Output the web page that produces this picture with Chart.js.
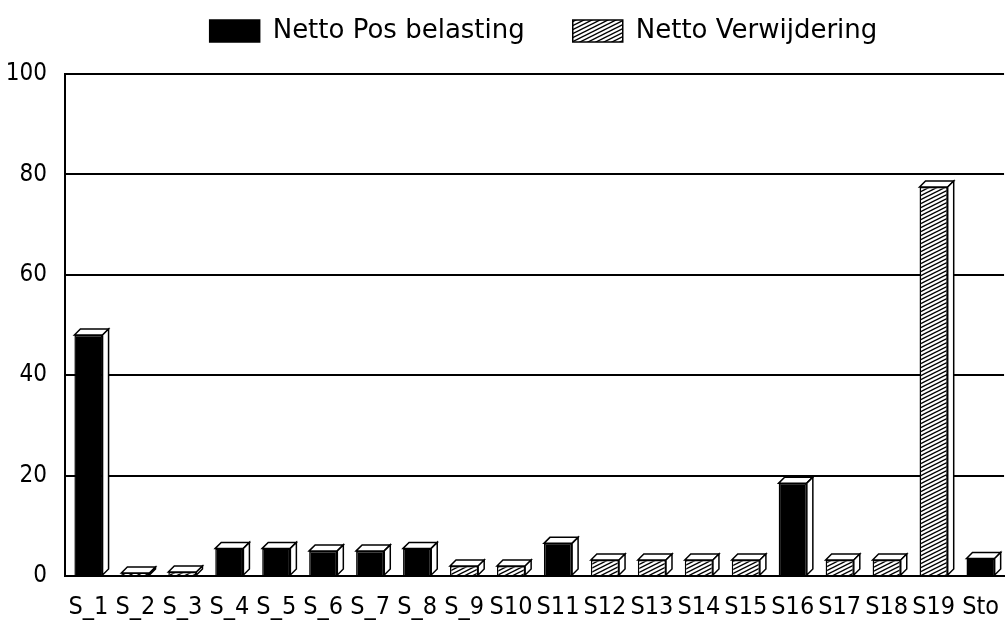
<!DOCTYPE html>
<html>
<head>
<meta charset="utf-8">
<script src="https://cdn.jsdelivr.net/npm/chart.js@4"></script>
<style>
  html, body { margin: 0; padding: 0; background: #fff; }
  #wrap { width: 1007px; height: 622px; }
</style>
</head>
<body>
<div id="wrap"><canvas id="chart" width="1007" height="622"></canvas></div>
<script>
  // data
  const categories = ['S_1', 'S_2', 'S_3', 'S_4', 'S_5', 'S_6', 'S_7', 'S_8', 'S_9', 'S10',
                      'S11', 'S12', 'S13', 'S14', 'S15', 'S16', 'S17', 'S18', 'S19', 'Sto'];
  const posBelasting = [48, null, null, 5.5, 5.5, 5, 5, 5.5, null, null,
                        6.5, null, null, null, null, 18.5, null, null, null, 3.5];
  const verwijdering = [null, 0.6, 0.8, null, null, null, null, null, 2, 2,
                        null, 3.2, 3.2, 3.2, 3.2, null, 3.2, 3.2, 77.5, null];
  const yTicks = [0, 20, 40, 60, 80, 100];

  const FONT = "'DejaVu Sans Condensed', sans-serif";
  const DEPTH = 6;

  function makeHatch() {
    const c = document.createElement('canvas');
    c.width = 8;
    c.height = 4;
    const g = c.getContext('2d');
    g.fillStyle = '#fff';
    g.fillRect(0, 0, 8, 4);
    g.strokeStyle = '#000';
    g.lineWidth = 1.4;
    for (let k = -1; k <= 1; k++) {
      g.beginPath();
      g.moveTo(0, 4 + 4 * k);
      g.lineTo(8, 0 + 4 * k);
      g.stroke();
    }
    return g.createPattern(c, 'repeat');
  }

  // draws the white top and side faces of each bar
  const depthPlugin = {
    id: 'depth3d',
    afterDatasetsDraw(chart) {
      const ctx = chart.ctx;
      ctx.save();
      ctx.lineWidth = 1.5;
      ctx.strokeStyle = '#000';
      ctx.fillStyle = '#fff';
      chart.data.datasets.forEach((ds, i) => {
        const meta = chart.getDatasetMeta(i);
        meta.data.forEach((bar, j) => {
          if (ds.data[j] === null) return;
          const p = bar.getProps(['x', 'y', 'base', 'width'], true);
          const l = p.x - p.width / 2;
          const r = p.x + p.width / 2;
          ctx.beginPath();
          ctx.moveTo(l, p.y);
          ctx.lineTo(l + DEPTH, p.y - DEPTH);
          ctx.lineTo(r + DEPTH, p.y - DEPTH);
          ctx.lineTo(r, p.y);
          ctx.closePath();
          ctx.fill();
          ctx.stroke();
          ctx.beginPath();
          ctx.moveTo(r, p.y);
          ctx.lineTo(r + DEPTH, p.y - DEPTH);
          ctx.lineTo(r + DEPTH, p.base - DEPTH);
          ctx.lineTo(r, p.base);
          ctx.closePath();
          ctx.fill();
          ctx.stroke();
        });
      });
      ctx.restore();
    }
  };

  // extra room under the legend, and legend sits a bit right of centre
  const legendGap = {
    id: 'legendGap',
    beforeInit(chart) {
      const fit = chart.legend.fit;
      chart.legend.fit = function () {
        fit.call(this);
        this.height = 104;
      };
    },
    beforeDraw(chart) {
      chart.legend.left = 80;
    }
  };

  window.addEventListener('DOMContentLoaded', () => {
    const ctx = document.getElementById('chart').getContext('2d');
    const hatch = makeHatch();

    new Chart(ctx, {
      type: 'bar',
      data: {
        labels: categories,
        datasets: [{
          label: 'Netto Pos belasting',
          data: posBelasting,
          backgroundColor: '#000',
          borderColor: '#000',
          borderWidth: 1.5,
          barPercentage: 0.6,
          categoryPercentage: 1
        }, {
          label: 'Netto Verwijdering',
          data: verwijdering,
          backgroundColor: hatch,
          borderColor: '#000',
          borderWidth: 1.5,
          barPercentage: 0.6,
          categoryPercentage: 1
        }]
      },
      options: {
        responsive: false,
        animation: false,
        layout: { padding: { left: 0, right: 0, top: -30, bottom: -8 } },
        plugins: {
          legend: {
            position: 'top',
            labels: {
              color: '#000',
              font: { family: 'DejaVu Sans', size: 26 },
              boxWidth: 50,
              boxHeight: 22,
              padding: 48
            }
          },
          tooltip: { enabled: false }
        },
        scales: {
          x: {
            stacked: true,
            grid: { display: false },
            border: { display: true, color: '#000', width: 2 },
            ticks: {
              color: '#000',
              font: { family: FONT, size: 25 },
              autoSkip: false,
              maxRotation: 0,
              padding: 8
            }
          },
          y: {
            stacked: true,
            min: 0,
            max: 100,
            afterBuildTicks: (scale) => {
              scale.ticks = yTicks.map(v => ({ value: v }));
            },
            afterFit: (scale) => { scale.width = 65; },
            grid: { color: '#000', lineWidth: 2, drawTicks: false },
            border: { display: true, color: '#000', width: 2 },
            ticks: {
              color: '#000',
              font: { family: FONT, size: 24 },
              padding: 18
            }
          }
        }
      },
      plugins: [depthPlugin, legendGap]
    });
  });
</script>
</body>
</html>
